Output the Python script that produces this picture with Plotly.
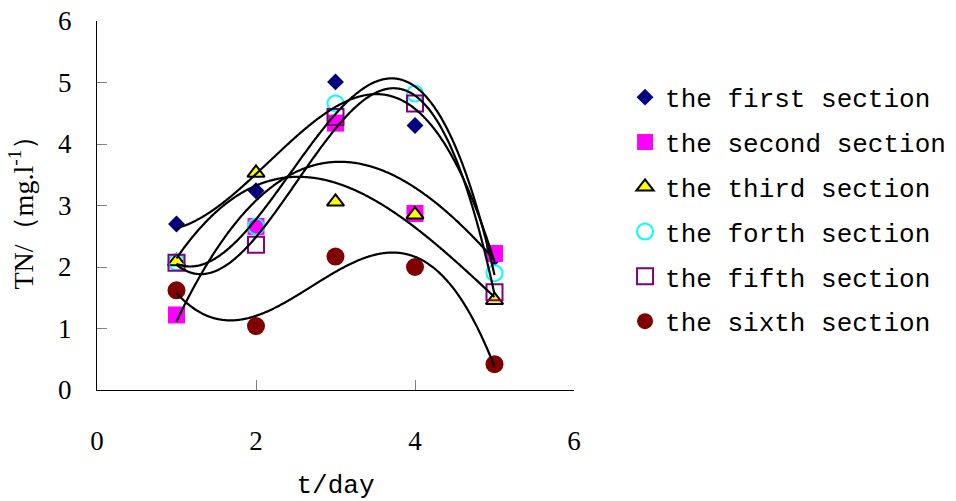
import numpy as np
import plotly.graph_objects as go

# ---- data ----
days = [1, 2, 3, 4, 5]
first_section = [2.70, 3.24, 5.01, 4.30, 2.15]
second_section = [1.22, 2.66, 4.34, 2.87, 2.22]
third_section = [2.09, 3.53, 3.06, 2.85, 1.46]
forth_section = [2.08, 2.66, 4.66, 4.82, 1.90]
fifth_section = [2.07, 2.36, 4.44, 4.66, 1.59]
sixth_section = [1.62, 1.04, 2.17, 2.00, 0.42]

series_names = ["the first section", "the second section", "the third section",
                "the forth section", "the fifth section", "the sixth section"]
x_tick_vals = [0, 2, 4, 6]
y_tick_vals = [0, 1, 2, 3, 4, 5, 6]

series_values = [first_section, second_section, third_section,
                 forth_section, fifth_section, sixth_section]

marker_styles = [
    dict(symbol="diamond", size=13, color="#000080"),
    dict(symbol="square", size=17, color="#FF00FF"),
    dict(symbol="triangle-up", size=15, color="#FFFF00", line=dict(color="black", width=2)),
    dict(symbol="circle-open", size=16, color="#00FFFF", line=dict(color="#00FFFF", width=2)),
    dict(symbol="square-open", size=16, color="#800080", line=dict(color="#800080", width=2)),
    dict(symbol="circle", size=18, color="#800000"),
]

fig = go.Figure()
for i, (name, vals) in enumerate(zip(series_names, series_values)):
    fig.add_trace(go.Scatter(
        x=days, y=vals, mode="markers", name=name,
        legendgroup="g%d" % i, marker=marker_styles[i], cliponaxis=False,
    ))

# cubic polynomial trendlines (Excel-style), fitted to each series
xs = np.linspace(min(days), max(days), 300)
for i, vals in enumerate(series_values):
    coef = np.polyfit(days, vals, 3)
    fig.add_trace(go.Scatter(
        x=xs, y=np.polyval(coef, xs), mode="lines",
        line=dict(color="black", width=2.2, shape="spline"),
        showlegend=False, hoverinfo="skip", legendgroup="g%d" % i,
    ))

fig.update_layout(
    width=956, height=501,
    margin=dict(l=97, r=382, t=21, b=111, autoexpand=False),
    paper_bgcolor="white", plot_bgcolor="white",
    showlegend=True,
    legend=dict(
        x=1.107, xanchor="left", y=0.857, yanchor="top",
        font=dict(family="Liberation Mono", size=26, color="black"),
        tracegroupgap=8, bgcolor="rgba(0,0,0,0)", borderwidth=0,
        itemclick=False, itemdoubleclick=False,
    ),
    xaxis=dict(
        range=[0, 6], tickvals=x_tick_vals, ticks="inside", ticklen=10,
        tickcolor="#808080", tickwidth=1,
        showline=True, linecolor="black", linewidth=1,
        showgrid=False, zeroline=False, ticklabelstandoff=27,
        ticklabeloverflow="allow",
        tickfont=dict(family="Liberation Serif", size=27, color="black"),
        title=dict(text="t/day", standoff=19,
                   font=dict(family="Liberation Mono", size=26, color="black")),
    ),
    yaxis=dict(
        range=[0, 6], tickvals=y_tick_vals, ticks="inside", ticklen=10,
        tickcolor="#808080", tickwidth=1,
        showline=True, linecolor="black", linewidth=1,
        showgrid=False, zeroline=False, ticklabelstandoff=19,
        ticklabeloverflow="allow",
        tickfont=dict(family="Liberation Serif", size=27, color="black"),
        title=dict(text="TN/（mg.l<sup>-1</sup>）", standoff=16,
                   font=dict(family="Liberation Serif", size=28, color="black")),
    ),
)

# remove the default 8px page margin so the figure sits at the window's corner
fig.write_html("out.html", config={"displayModeBar": False},
               post_script="document.body.style.margin='0';")
